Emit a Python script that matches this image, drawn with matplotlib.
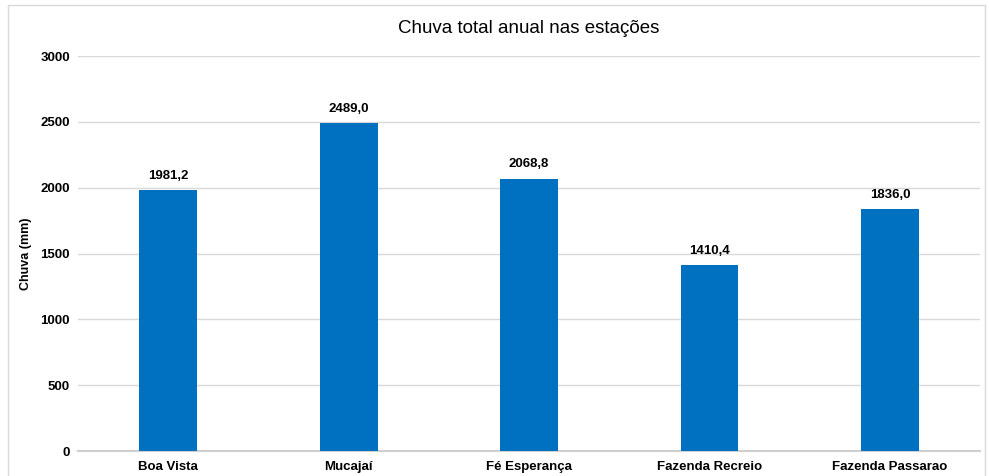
import matplotlib
matplotlib.use("Agg")
import matplotlib.pyplot as plt
from matplotlib.patches import Rectangle

# chuva total anual por estação (mm)
estacoes = ["Boa Vista", "Mucajaí", "Fé Esperança", "Fazenda Recreio", "Fazenda Passarao"]
chuva = [1981.2, 2489.0, 2068.8, 1410.4, 1836.0]
yticks = [0, 500, 1000, 1500, 2000, 2500, 3000]

plt.rcParams['font.family'] = ['Liberation Sans', 'DejaVu Sans']

fig = plt.figure(figsize=(9.89, 4.76), dpi=100)
ax = fig.add_axes([0.079, 0.0525, 0.912, 0.8295])

# moldura externa do gráfico
fig.patches.append(Rectangle((0.008, -0.01), 0.988, 1.0, transform=fig.transFigure,
                             fill=False, edgecolor="#d9d9d9", linewidth=1.0))

x = range(len(estacoes))
barras = ax.bar(x, chuva, width=0.32, color="#0070c0", zorder=3)

for b, v in zip(barras, chuva):
    ax.annotate(("%.1f" % v).replace(".", ","),
                (b.get_x() + b.get_width() / 2, v),
                xytext=(0, 6), textcoords="offset points",
                ha="center", va="bottom", fontsize=9.5, fontweight="bold")

ax.set_xlim(-0.5, len(estacoes) - 0.5)
ax.set_ylim(0, 3000)
ax.set_yticks(yticks)
ax.set_yticklabels([str(t) for t in yticks], fontsize=9.5, fontweight="bold")
ax.set_xticks(list(x))
ax.set_xticklabels(estacoes, fontsize=9.5, fontweight="bold")
ax.tick_params(axis="y", length=0, pad=6)
ax.tick_params(axis="x", length=0, pad=7)

ax.grid(axis="y", color="#d9d9d9", linewidth=1.0, zorder=0)
for s in ["top", "right", "left"]:
    ax.spines[s].set_visible(False)
ax.spines["bottom"].set_color("#d0d0d0")
ax.spines["bottom"].set_linewidth(1.5)

ax.set_ylabel("Chuva (mm)", fontsize=9, fontweight="bold", labelpad=6)
ax.set_title("Chuva total anual nas estações", fontsize=13.5, pad=17)

fig.savefig("out.png", dpi=100)
